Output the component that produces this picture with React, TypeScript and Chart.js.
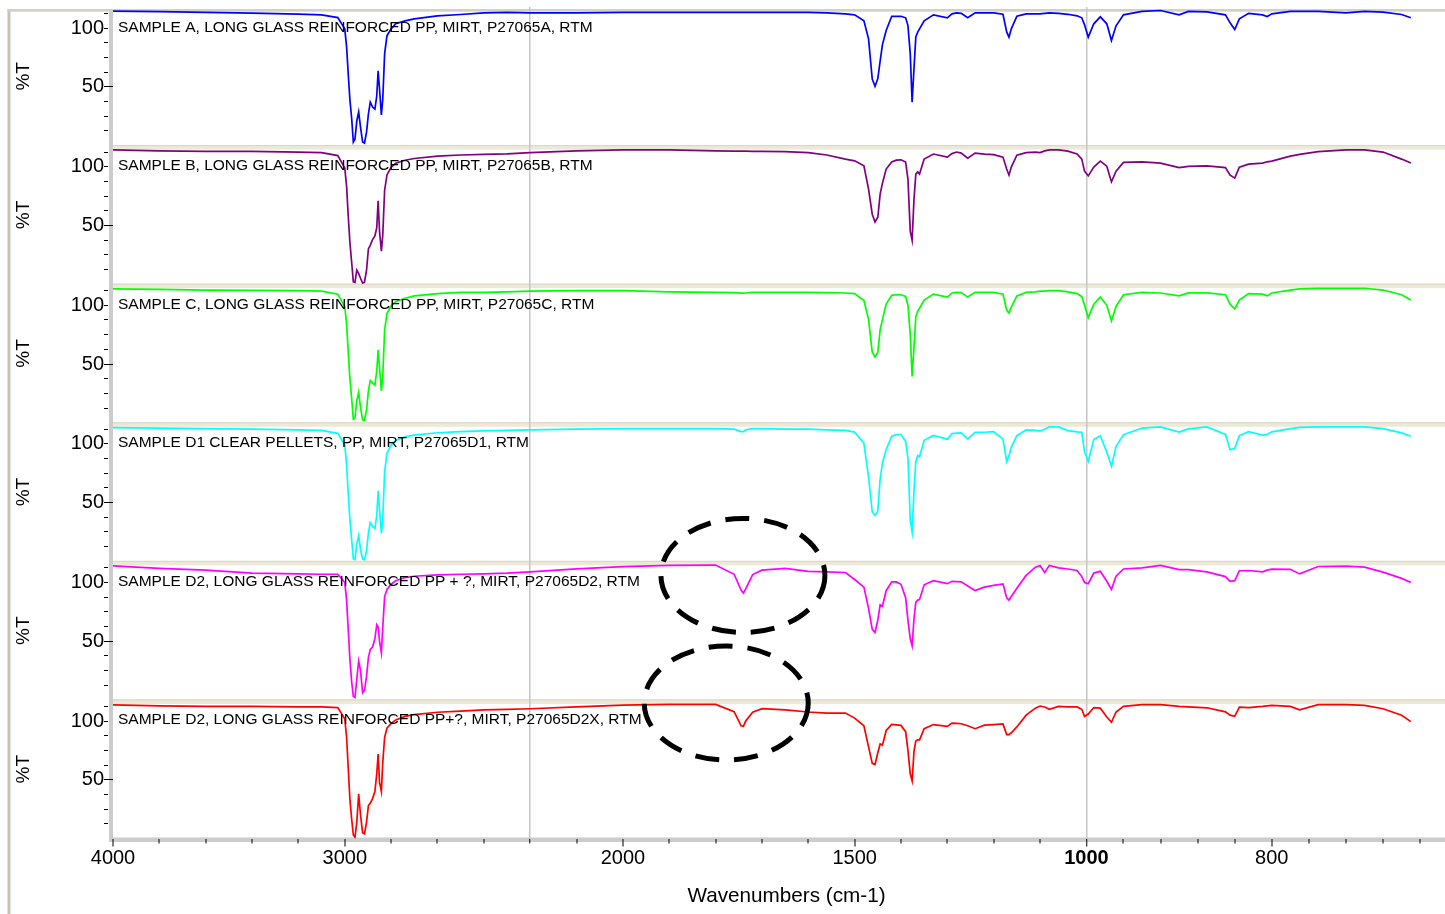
import React, { useEffect, useRef } from 'react';
import { Chart, registerables, LinearScale } from 'chart.js';

Chart.register(...registerables);

const FONT = 'Arial, "Liberation Sans", Helvetica, sans-serif';

// ---------------- data ----------------
const WAVENUMBERS = [
  4000, 3800, 3600, 3400, 3200, 3100, 3030,
  3000, 2992, 2985, 2978, 2970, 2963, 2956, 2948, 2940, 2932, 2923, 2915, 2906, 2898, 2890, 2880, 2870, 2862, 2856, 2850, 2842, 2836, 2828, 2818,
  2800, 2780, 2740, 2700, 2600, 2500, 2400, 2300, 2200, 2100, 2000, 1900, 1800,
  1760, 1745, 1740, 1735, 1720, 1700, 1650, 1600, 1560, 1520, 1500,
  1480, 1470, 1462, 1456, 1450, 1445, 1440, 1432, 1420, 1410, 1400,
  1390, 1385, 1380, 1376, 1372, 1368, 1364, 1360, 1350, 1330,
  1300, 1290, 1280, 1270, 1256, 1240, 1220, 1200, 1180, 1172, 1167, 1162, 1150, 1130, 1110, 1100, 1090, 1080, 1060, 1040, 1020, 1010,
  1004, 998, 992, 985, 978, 973, 968, 960, 940, 920, 900, 890, 870,
  850, 845, 840, 835, 825, 810, 805, 800, 780, 770, 750, 720, 700, 680, 660, 650,
];

const SAMPLE_A = [
  114.5, 114, 113.5, 112.8, 111.9, 111.3, 109,
  99.4, 84, 61, 39.6, 22.6, 3, 5.5, 21, 28.6, 15.8, 3, 2, 11.5, 26.9, 37, 32.8, 31.1, 42.2, 63.6, 48.2, 26, 39.7, 78.1, 93.4,
  99.4, 103.7, 106.2, 107.9, 110.5, 111.6, 113, 113.5, 113, 113, 113.5, 113.5, 113.5,
  113.5, 113.5, 113.5, 113.5, 113.5, 113.5, 113.5, 113.5, 113, 112.2, 111.3,
  106.2, 90.9, 56.7, 50.5, 57, 72, 86, 98, 110.1, 110.1, 110.1,
  108.8, 102.2, 78.1, 36.9, 65.3, 92.6, 96.6, 99.4, 106.2, 111.3,
  108.8, 112.2, 113, 112.6, 108.8, 113, 113, 113, 111.8, 96.8, 92.3, 99.4, 110.1, 112.2, 112.2, 112.2, 112.6, 113, 112.6, 111.8, 110.5, 108.8,
  102.8, 92.3, 103.7, 109.6, 103.7, 89.4, 102, 111.3, 114.2, 115, 111.3, 114.2, 113.9,
  111.3, 104.5, 98.8, 107.9, 112.6, 111.3, 109.9, 112.2, 114.2, 114.2, 114.2, 113, 114.2, 113.7, 111.6, 108.8,
];

const SAMPLE_B = [
  114.3, 113.5, 113, 113, 112.5, 112, 109.5,
  99, 83, 58, 36, 18, 2, 1.5, 12, 9, 5, 1, 1.5, 12, 30, 33, 38, 41, 48, 71, 45, 28, 42, 80, 93,
  99.5, 103, 105.5, 107, 109, 110, 110.5, 111, 112, 113.5, 114.3, 114.3, 113.5,
  113.3, 113.3, 113.3, 113.3, 113, 113, 112.8, 112, 110, 106.5, 105,
  100.8, 81, 59.6, 53, 57, 76.6, 86, 98, 104, 105.6, 105.9,
  104, 89.4, 45, 37.4, 72, 93.7, 95.6, 93.7, 106.5, 110.8,
  108.2, 111.2, 112.5, 111.6, 107.3, 111.6, 110.8, 110.3, 108.2, 98, 92.8, 99.7, 109.9, 112, 112.5, 112, 113.5, 114.4, 114.4, 113.3, 110.8, 106.5,
  96.2, 92.2, 99.7, 104.8, 100.5, 87.1, 96.2, 103.7, 104.2, 103.1, 99.2, 100.3, 100.8,
  99.2, 92.8, 90.3, 99.7, 102.2, 103.1, 104.2, 104.8, 109, 110.5, 112.9, 114.4, 114.4, 112.5, 106.5, 103.1,
];

const SAMPLE_C = [
  114, 113.5, 113, 112.8, 112.5, 112, 109.5,
  99, 84, 60, 38, 20, 3, 4, 19, 26, 13, 2.5, 2, 11, 27, 36, 34, 32, 44, 62, 47, 27, 40, 79, 93,
  99.5, 103, 106, 108, 110, 111, 111, 111.5, 112, 112.5, 112.5, 111.5, 111,
  110.8, 110.3, 110.3, 110.5, 111, 111, 111, 111, 110.8, 110.5, 110,
  104, 88, 60, 56, 60, 79, 88, 101, 108.5, 109, 109,
  107.5, 100, 75, 39.5, 64, 90, 95, 97.5, 104.5, 109.5,
  107, 110.5, 111, 110.8, 107, 111, 111, 111, 109.5, 96, 93.5, 98.5, 108, 111, 111.5, 112, 112, 112.5, 112.5, 111.5, 110, 107.5,
  100, 89.5, 101, 107, 100, 86.7, 99, 109, 111, 110.5, 108, 110.5, 110.5,
  109, 101, 97, 104.5, 110, 109.5, 108, 110.5, 113, 114, 114.5, 114.5, 114.5, 113, 109, 104.5,
];

const SAMPLE_D1 = [
  113.9, 113.5, 113, 112.5, 112, 111.5, 109,
  99, 82, 58, 36, 18, 2, 1.5, 15, 22, 10, 2, 1.5, 9, 24, 33, 30, 28, 39, 60, 44, 24, 36, 76, 92,
  99, 103, 106, 107.5, 109.5, 110.5, 111, 111.5, 112, 112.5, 113, 113, 113,
  112.5, 110.5, 110.5, 112, 113, 113, 112.5, 112.5, 112, 111.5, 110,
  100.5, 72, 42, 39, 43, 70, 83.8, 95, 106.5, 107.9, 107.9,
  102.2, 88, 35, 25, 60, 85, 90, 89, 103, 107.2,
  104, 108.8, 109.2, 109.4, 104.3, 109.9, 109.9, 110.4, 104, 85, 90, 97, 107, 112, 111.5, 110.8, 112.5, 114.5, 114.5, 111.3, 110.2, 109.9,
  93, 85.2, 103.7, 107, 93, 81, 98, 107.9, 113.5, 114.5, 110, 112.8, 114.5,
  108, 95.1, 96, 107, 110.5, 107.5, 108, 110.3, 113, 114, 114.5, 114.5, 114.5, 113, 109.4, 106.5,
];

const SAMPLE_D2 = [
  114.2, 112, 110.5, 107.9, 107.3, 107, 107,
  100, 85, 60, 35, 15, 3, 2, 18, 33, 25, 6, 8, 20, 36, 43, 45, 52, 64, 62, 50, 40, 62, 88, 94,
  98.5, 101.5, 104.2, 105.3, 106.5, 107, 107.3, 107.9, 109, 111.5, 113.5, 114.5, 114.8,
  107, 93.5, 91.1, 94.5, 106.7, 110.5, 112, 109.5, 109, 108.5, 102.5,
  96, 78, 60, 57.5, 68, 81, 80, 93, 100.5, 100.5, 98.5,
  87, 68, 52, 46, 69, 83, 85, 85.4, 98, 101.5,
  99, 101, 100.8, 100.5, 97, 93.1, 96, 97.5, 98.8, 87, 85, 88, 95, 106, 113, 114.5, 108.5, 114.5, 112.5, 111.5, 110.2, 105,
  100, 99, 108, 109.5, 101, 94, 105.4, 111.5, 112.5, 114.5, 111, 111, 109,
  105, 101, 101.5, 110, 110.2, 109, 110.5, 111.4, 111.2, 107.3, 113.6, 113.9, 113, 108.8, 103.5, 100,
];

const SAMPLE_D2X = [
  113.7, 113, 112.5, 112.5, 112, 112, 111.5,
  102, 86, 60, 34, 16, 3, 1, 14, 38, 20, 5, 4, 14, 28, 30, 34, 40, 55, 72, 48, 40, 65, 86, 94,
  98, 101, 104, 105.5, 107.5, 108.5, 109.5, 110, 110.5, 112, 113.5, 114.2, 114.2,
  108, 96, 95.5, 100, 107.5, 110.5, 109.6, 107.7, 106.8, 106.8, 102.5,
  96, 78, 64, 63, 73, 80.5, 79.5, 92, 97.2, 96.8, 96.3,
  91, 75, 55, 49, 74, 83, 84, 84, 93.5, 97,
  95.5, 98.2, 98, 97.7, 96, 93.5, 96.5, 97, 97.5, 88.5, 88.5, 90, 95, 105, 111, 112.8, 112, 110, 112.5, 112, 112, 110,
  104, 106, 111.5, 111, 103.4, 99, 107.7, 112.5, 114, 114, 112.5, 112, 111.3,
  107.8, 105, 104, 111.9, 111.5, 112.5, 113, 113.4, 112.5, 109.6, 114, 114, 113.4, 110.5, 105, 99.5,
];

const PANEL_TITLES = [
  'SAMPLE A, LONG GLASS REINFORCED PP, MIRT, P27065A, RTM',
  'SAMPLE B, LONG GLASS REINFORCED PP, MIRT, P27065B, RTM',
  'SAMPLE C, LONG GLASS REINFORCED PP, MIRT, P27065C, RTM',
  'SAMPLE D1 CLEAR PELLETS, PP, MIRT, P27065D1, RTM',
  'SAMPLE D2, LONG GLASS REINFORCED PP + ?, MIRT, P27065D2, RTM',
  'SAMPLE D2, LONG GLASS REINFORCED PP+?, MIRT, P27065D2X, RTM',
];
const PANEL_COLORS = ['#0000ff', '#800080', '#00ff00', '#00ffff', '#ff00ff', '#ff0000'];
const SERIES = [SAMPLE_A, SAMPLE_B, SAMPLE_C, SAMPLE_D1, SAMPLE_D2, SAMPLE_D2X];
const PANEL_IDS = ['yA', 'yB', 'yC', 'yD1', 'yD2', 'yD2X'];

const X_TICK_LABELS = [4000, 3000, 2000, 1500, 1000, 800];
const X_BOLD_LABEL = 1000;
const X_GRID_LINES = [2200, 1000];
const Y_TICKS = [12.5, 25, 37.5, 50, 62.5, 75, 87.5, 100, 112.5];
const Y_TICK_LABELS = [50, 100];
const Y_LONG_TICKS = [50];

// dashed ellipses marking the 1740 cm-1 band (panel, wavenumber, %T of centre)
const ELLIPSES = [
  { axis: 'yD2', wavenumber: 1741, value: 106, rx: 82, ry: 57 },
  { axis: 'yD2X', wavenumber: 1777, value: 115.4, rx: 82, ry: 57 },
];

// ---------------- split wavenumber axis (scale doubles at 2200 and 1000) ----------------
const WN_MAX = 4000;
const WN_MIN = 597;
function toU(wn: number) {
  if (wn >= 2200) return WN_MAX - wn;
  if (wn >= 1000) return 1800 + (2200 - wn) * 2;
  return 4200 + (1000 - wn) * 4;
}
function fromU(u: number) {
  if (u <= 1800) return WN_MAX - u;
  if (u <= 4200) return 2200 - (u - 1800) / 2;
  return 1000 - (u - 4200) / 4;
}
const U_MAX = toU(WN_MIN);

class WavenumberScale extends LinearScale {
  static id = 'wavenumber';
  static defaults = LinearScale.defaults;
  getPixelForValue(value: number) {
    return this.getPixelForDecimal(toU(value) / U_MAX);
  }
  getValueForPixel(pixel: number) {
    return fromU(this.getDecimalForPixel(pixel) * U_MAX);
  }
}
Chart.register(WavenumberScale);

const X_TICKS: number[] = [];
for (let w = 4000; w >= 2200; w -= 200) X_TICKS.push(w);
for (let w = 2100; w >= 1000; w -= 100) X_TICKS.push(w);
for (let w = 960; w >= 600; w -= 40) X_TICKS.push(w);

// ---------------- plugins ----------------
const decorPlugin = {
  id: 'decor',
  beforeDraw(chart: any) {
    const { ctx, chartArea: a, width, height } = chart;
    ctx.save();
    ctx.fillStyle = '#ffffff';
    ctx.fillRect(0, 0, width, height);
    // outer frame
    ctx.fillStyle = '#c6c3b6';
    ctx.fillRect(7.5, 9, 3, height - 9);
    ctx.fillStyle = '#d3d0c4';
    ctx.fillRect(7.5, 9, width - 7.5, 2.7);
    // separators between stacked panels
    PANEL_IDS.slice(1).forEach((id) => {
      const s = chart.scales[id];
      ctx.fillStyle = '#ece9d8';
      ctx.fillRect(a.left - 4, s.top - 0.5, a.right - a.left + 4, 4.5);
      ctx.fillStyle = '#d9d5c6';
      ctx.fillRect(a.left - 4, s.top - 0.5, a.right - a.left + 4, 1);
    });
    // axis bands
    ctx.fillStyle = '#cccccc';
    ctx.fillRect(a.left - 4, a.top + 4.5, 4, a.bottom - a.top - 4.5);
    ctx.fillRect(a.left - 4, a.bottom - 1, a.right - a.left + 4, 4.5);
    ctx.restore();
  },
};

const overlayPlugin = {
  id: 'overlay',
  afterDatasetsDraw(chart: any) {
    const { ctx, chartArea: a, scales } = chart;
    ctx.save();
    ctx.fillStyle = '#000';
    ctx.font = `15.5px ${FONT}`;
    ctx.textAlign = 'left';
    ctx.textBaseline = 'alphabetic';
    PANEL_IDS.forEach((id, i) => {
      ctx.fillText(PANEL_TITLES[i], a.left + 5, scales[id].top + 24.5);
    });
    ctx.strokeStyle = '#000';
    ctx.lineWidth = 5;
    ctx.setLineDash([24, 15]);
    ELLIPSES.forEach((e) => {
      const cx = scales.x.getPixelForValue(e.wavenumber);
      const cy = scales[e.axis].getPixelForValue(e.value);
      ctx.beginPath();
      ctx.ellipse(cx, cy, e.rx, e.ry, 0, 0, Math.PI * 2);
      ctx.stroke();
    });
    ctx.restore();
  },
};

function buildConfig(): any {
  const datasets = SERIES.map((vals, i) => ({
    label: PANEL_TITLES[i],
    data: WAVENUMBERS.map((w, j) => ({ x: w, y: vals[j] })),
    yAxisID: PANEL_IDS[i],
    borderColor: PANEL_COLORS[i],
    backgroundColor: PANEL_COLORS[i],
    borderWidth: 1.7,
    pointRadius: 0,
    tension: 0,
    fill: false,
  }));

  const scales: any = {
    x: {
      type: 'wavenumber',
      position: 'bottom',
      min: WN_MIN,
      max: WN_MAX,
      border: { display: false },
      grid: {
        drawOnChartArea: true,
        drawTicks: true,
        tickLength: 8,
        tickColor: '#000',
        tickWidth: 1,
        color: (c: any) => (c.tick && X_GRID_LINES.includes(c.tick.value) ? '#c6c6c6' : 'rgba(0,0,0,0)'),
        lineWidth: (c: any) => (c.tick && X_GRID_LINES.includes(c.tick.value) ? 1.5 : 0),
        tickBorderDash: (c: any) => (c.tick && X_TICK_LABELS.includes(c.tick.value) ? [] : [4.5, 60]),
      },
      ticks: {
        autoSkip: false,
        maxRotation: 0,
        minRotation: 0,
        padding: 0,
        color: '#000',
        font: (c: any) => ({
          family: FONT,
          size: 20,
          weight: c.tick && c.tick.value === X_BOLD_LABEL ? 'bold' : 'normal',
        }),
        callback: (v: number) => (X_TICK_LABELS.includes(v) ? String(v) : ''),
      },
      title: {
        display: true,
        text: 'Wavenumbers (cm-1)',
        color: '#000',
        font: { family: FONT, size: 20.7 },
        padding: { top: 0, bottom: 5.6 },
      },
      afterBuildTicks: (s: any) => {
        s.ticks = X_TICKS.map((v) => ({ value: v }));
      },
      afterFit: (s: any) => {
        s.height = 75.5;
        s.paddingLeft = 0;
        s.paddingRight = 0;
      },
    },
  };

  PANEL_IDS.forEach((id, i) => {
    scales[id] = {
      type: 'linear',
      position: 'left',
      stack: 'panels',
      stackWeight: 1,
      weight: PANEL_IDS.length - i,
      min: 0,
      max: 118,
      border: { display: false },
      grid: {
        drawOnChartArea: false,
        drawTicks: true,
        tickLength: 9,
        tickColor: '#000',
        tickWidth: 1,
        tickBorderDash: (c: any) => (c.tick && Y_LONG_TICKS.includes(c.tick.value) ? [] : [4, 60]),
      },
      ticks: {
        autoSkip: false,
        padding: 0,
        color: '#000',
        font: { family: FONT, size: 20 },
        callback: (v: number) => (Y_TICK_LABELS.includes(v) ? String(v) : ''),
      },
      title: {
        display: true,
        text: '%T',
        color: '#000',
        font: { family: FONT, size: 19 },
        padding: { top: 12, bottom: 0 },
      },
      afterBuildTicks: (s: any) => {
        s.ticks = Y_TICKS.map((v) => ({ value: v }));
      },
      afterFit: (s: any) => {
        s.width = 113;
        s.paddingTop = 0;
        s.paddingBottom = 0;
      },
    };
  });

  return {
    type: 'line',
    data: { datasets },
    options: {
      responsive: false,
      maintainAspectRatio: false,
      animation: false,
      events: [],
      layout: { padding: { top: 7, left: 0, right: 0, bottom: 0 } },
      plugins: {
        legend: { display: false },
        tooltip: { enabled: false },
        title: { display: false },
      },
      scales,
    },
    plugins: [decorPlugin, overlayPlugin],
  };
}

export default function App() {
  const canvasRef = useRef<HTMLCanvasElement | null>(null);
  useEffect(() => {
    Chart.defaults.font.family = FONT;
    const chart = new Chart(canvasRef.current as HTMLCanvasElement, buildConfig());
    return () => chart.destroy();
  }, []);
  return (
    <div
      style={{
        position: 'fixed',
        left: 0,
        top: 0,
        width: 1445,
        height: 914,
        overflow: 'hidden',
        background: '#fff',
      }}
    >
      <canvas ref={canvasRef} width={1460} height={914} style={{ display: 'block', width: 1460, height: 914 }} />
    </div>
  );
}
